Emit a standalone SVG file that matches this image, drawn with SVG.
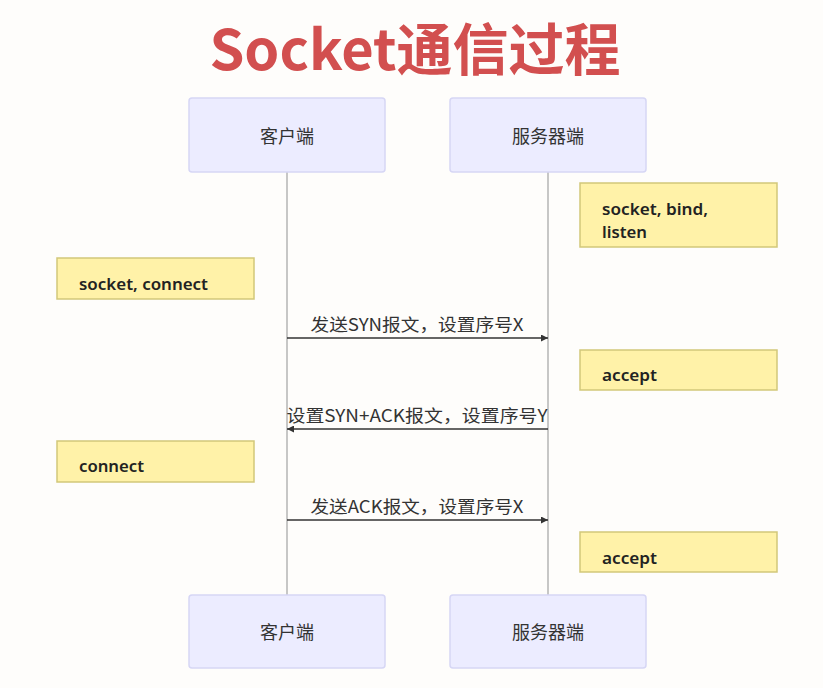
<svg xmlns="http://www.w3.org/2000/svg" width="823" height="688" viewBox="0 0 823 688">
<style>
.actor{fill:#ececff;stroke:#d6d6f5;stroke-width:1.5}
.alabel{font-family:"Noto Sans CJK SC","Noto Sans",sans-serif;font-size:18px;fill:#333;text-anchor:middle}
.note{fill:#fff2a8;stroke:#d2c77a;stroke-width:1.5}
.ntext{font-family:"Noto Sans","DejaVu Sans",sans-serif;font-size:16px;font-weight:600;fill:#222}
.life{stroke:#b5b5b5;stroke-width:1.5}
.msg{stroke:#333;stroke-width:1.5;fill:none}
.mtext{font-family:"Noto Sans CJK SC","Noto Sans",sans-serif;font-size:17px;fill:#333;text-anchor:middle}
</style>
<defs>
<marker id="arr" viewBox="0 0 10 10" refX="10" refY="5" markerWidth="10" markerHeight="7" markerUnits="userSpaceOnUse" orient="auto">
<path d="M0,0 L10,5 L0,10 z" fill="#333"/>
</marker>
</defs>
<rect width="823" height="688" fill="#fefdfb"/>
<text x="415" y="70" font-family="'Noto Sans CJK SC','Noto Sans',sans-serif" font-size="56" font-weight="bold" fill="#d24f4f" text-anchor="middle">Socket通信过程</text>
<g id="lifelines">
<line class="life" x1="287" y1="172" x2="287" y2="596"/>
<line class="life" x1="548" y1="172" x2="548" y2="596"/>
</g>
<g id="client-top"><rect class="actor" x="189" y="98" width="196" height="74" rx="3"/><text class="alabel" x="287" y="143">客户端</text></g>
<g id="server-top"><rect class="actor" x="450" y="98" width="196" height="74" rx="3"/><text class="alabel" x="548" y="143">服务器端</text></g>
<g id="client-bottom"><rect class="actor" x="189" y="595" width="196" height="73" rx="3"/><text class="alabel" x="287" y="639">客户端</text></g>
<g id="server-bottom"><rect class="actor" x="450" y="595" width="196" height="73" rx="3"/><text class="alabel" x="548" y="639">服务器端</text></g>
<g id="note1"><rect class="note" x="580" y="183" width="197" height="64"/><text class="ntext" x="602" y="215" textLength="106" lengthAdjust="spacingAndGlyphs">socket, bind,</text><text class="ntext" x="602" y="238" textLength="45" lengthAdjust="spacingAndGlyphs">listen</text></g>
<g id="note2"><rect class="note" x="57" y="258" width="197" height="41"/><text class="ntext" x="79" y="290" textLength="129" lengthAdjust="spacingAndGlyphs">socket, connect</text></g>
<g id="note3"><rect class="note" x="580" y="350" width="197" height="40"/><text class="ntext" x="602" y="381" textLength="55" lengthAdjust="spacingAndGlyphs">accept</text></g>
<g id="note4"><rect class="note" x="57" y="441" width="197" height="41"/><text class="ntext" x="79" y="472" textLength="65" lengthAdjust="spacingAndGlyphs">connect</text></g>
<g id="note5"><rect class="note" x="580" y="532" width="197" height="40"/><text class="ntext" x="602" y="564" textLength="55" lengthAdjust="spacingAndGlyphs">accept</text></g>
<g id="connectors">
<line class="msg" x1="287" y1="338" x2="548" y2="338" marker-end="url(#arr)"/>
<text class="mtext" x="417" y="331" textLength="213" lengthAdjust="spacingAndGlyphs">发送SYN报文，设置序号X</text>
<line class="msg" x1="548" y1="429" x2="287" y2="429" marker-end="url(#arr)"/>
<text class="mtext" x="417" y="422" textLength="261" lengthAdjust="spacingAndGlyphs">设置SYN+ACK报文，设置序号Y</text>
<line class="msg" x1="287" y1="520" x2="548" y2="520" marker-end="url(#arr)"/>
<text class="mtext" x="417" y="513" textLength="213" lengthAdjust="spacingAndGlyphs">发送ACK报文，设置序号X</text>
</g>
</svg>
